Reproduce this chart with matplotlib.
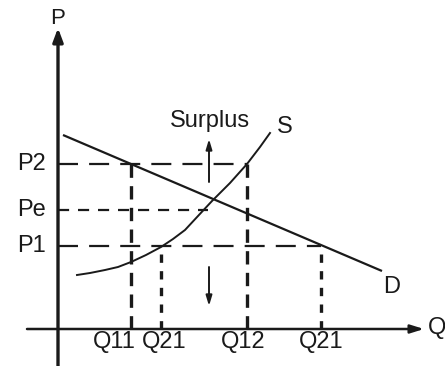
import matplotlib.pyplot as plt

plt.rcParams['font.family'] = ['Liberation Sans', 'DejaVu Sans']

# price levels and quantities
p2 = 165
pe = 119
p1 = 83
q11 = 73
q21_low = 103
q12 = 189
q21_high = 263

# demand line end points
demand_q = [5, 324]
demand_p = [194, 58]

# supply curve points
supply_q = [19, 32, 47, 60, 73, 88, 103, 115, 127, 140, 154, 172, 189, 202, 212]
supply_p = [54, 56, 59, 62, 67, 74, 82, 90, 99, 113, 128, 146, 165, 182, 196]

price_labels = ["P2", "Pe", "P1"]
price_values = [p2, pe, p1]
qty_labels = ["Q11", "Q21", "Q12", "Q21"]
qty_values = [q11, q21_low, q12, q21_high]

fig = plt.figure(figsize=(4.45, 3.66), dpi=100)
ax = fig.add_axes([0, 0, 1, 1])
ax.set_xlim(-58, 387)
ax.set_ylim(-37, 329)
ax.axis("off")

ink = "#1a1a1a"

# axes with arrows
ax.annotate("", xy=(0, 301), xytext=(0, -40),
            arrowprops=dict(arrowstyle="-|>,head_length=0.8,head_width=0.3",
                            color=ink, lw=2.4, shrinkA=0, shrinkB=0))
ax.annotate("", xy=(366, 0), xytext=(-31, 0),
            arrowprops=dict(arrowstyle="-|>,head_length=0.8,head_width=0.25",
                            color=ink, lw=1.8, shrinkA=0, shrinkB=0))
ax.text(0, 311, "P", fontsize=16, color=ink, ha="center", va="center")
ax.text(379, 1, "Q", fontsize=17, color=ink, ha="center", va="center")

# horizontal guides
ax.plot([0, q12], [p2, p2], color=ink, lw=1.6, dashes=(9, 5))
ax.plot([0, 150], [pe, pe], color=ink, lw=1.6, dashes=(5, 4))
ax.plot([0, q21_high], [p1, p1], color=ink, lw=1.6, dashes=(9, 5))

# vertical guides
ax.plot([q11, q11], [0, p2], color=ink, lw=2.4, dashes=(4, 2.5))
ax.plot([q21_low, q21_low], [0, p1], color=ink, lw=2.4, dashes=(2.5, 2.5))
ax.plot([q12, q12], [0, p2], color=ink, lw=2.4, dashes=(4, 2.5))
ax.plot([q21_high, q21_high], [0, p1], color=ink, lw=2.4, dashes=(2.5, 2.5))

# demand and supply
ax.plot(demand_q, demand_p, color=ink, lw=1.6, solid_capstyle="butt")
ax.plot(supply_q, supply_p, color=ink, lw=1.4, solid_joinstyle="round")
ax.text(227, 202, "S", fontsize=17, color=ink, ha="center", va="center")
ax.text(334, 42, "D", fontsize=17, color=ink, ha="center", va="center")

# surplus arrows
ax.text(152, 208, "Surplus", fontsize=17, color=ink, ha="center", va="center")
ax.annotate("", xy=(151, 190), xytext=(151, 147),
            arrowprops=dict(arrowstyle="-|>,head_length=0.6,head_width=0.18",
                            color=ink, lw=1.4, shrinkA=0, shrinkB=0))
ax.annotate("", xy=(151, 23), xytext=(151, 62),
            arrowprops=dict(arrowstyle="-|>,head_length=0.6,head_width=0.18",
                            color=ink, lw=1.4, shrinkA=0, shrinkB=0))

# tick labels
for lab, p in zip(price_labels, price_values):
    ax.text(-12, p, lab, fontsize=17, color=ink, ha="right", va="center")
qty_offsets = [-17, 3, -4, 0]
for lab, q, off in zip(qty_labels, qty_values, qty_offsets):
    ax.text(q + off, -13, lab, fontsize=17, color=ink, ha="center", va="center")

fig.savefig("out.png", dpi=100)
